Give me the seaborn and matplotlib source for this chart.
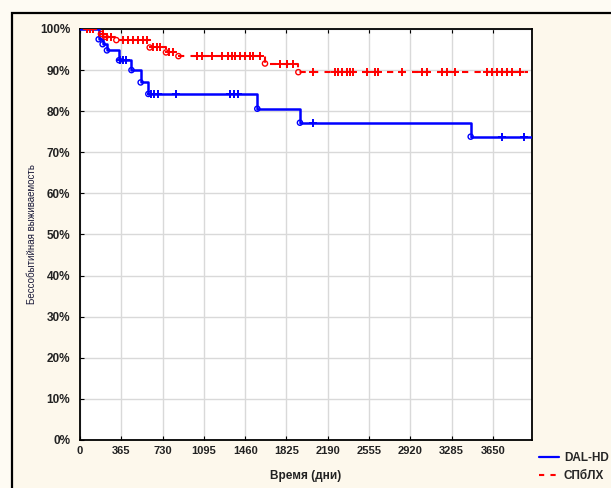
import numpy as np
import pandas as pd
import matplotlib
matplotlib.use("Agg")
import matplotlib.pyplot as plt
from matplotlib.lines import Line2D
from matplotlib.patches import Rectangle
import seaborn as sns

# ---- data ----
dal_event_days = [0, 165, 200, 238, 345, 455, 536, 604, 1567, 1944, 3453, 3995]
dal_surv = [100, 97.5, 96.3, 94.8, 92.4, 90.0, 87.0, 84.2, 80.6, 77.2, 73.8, 73.8]
dal_censor_days = [350, 380, 410, 625, 655, 685, 848, 1330, 1365, 1400, 2060, 3726, 3923]

spb_event_days = [0, 185, 225, 321, 616, 760, 870, 1635, 1930, 3960]
spb_surv = [100, 98.8, 98.1, 97.3, 95.5, 94.3, 93.4, 91.6, 89.5, 89.5]
spb_censor_days = [60, 90, 118, 206, 240, 270, 383, 427, 471, 516, 560, 589, 648, 677,
                   707, 790, 825, 1031, 1075, 1164, 1252, 1311, 1340, 1370, 1414, 1458,
                   1502, 1532, 1591, 1768, 1827, 1885, 2062, 2254, 2283, 2313, 2357,
                   2386, 2416, 2534, 2607, 2637, 2843, 3020, 3064, 3197, 3241, 3314,
                   3594, 3638, 3683, 3727, 3771, 3815, 3889]

group_names = ["DAL-HD", "СПбЛХ"]
x_ticks = [0, 365, 730, 1095, 1460, 1825, 2190, 2555, 2920, 3285, 3650]
y_ticks = [0, 10, 20, 30, 40, 50, 60, 70, 80, 90, 100]
x_label = "Время (дни)"
y_label = "Бессобытийная выживаемость"


def step_value(days, surv, t):
    idx = np.searchsorted(np.asarray(days), t, side="right") - 1
    return np.asarray(surv)[idx]


sns.set_style("white")
plt.rcParams["font.family"] = ["Liberation Sans", "DejaVu Sans"]

fig = plt.figure(figsize=(6.11, 4.88), dpi=100)
fig.patch.set_facecolor("#fefbf3")
# outer frame (behind the axes)
frame = Rectangle((12 / 611, -0.01), 1.0, 1 - 13 / 488 + 0.01, transform=fig.transFigure,
                  facecolor="#fdf8ec", edgecolor="black", linewidth=1.6, zorder=-10)
fig.add_artist(frame)

ax = fig.add_axes([80 / 611, 1 - 440 / 488, (532 - 80) / 611, (440 - 29) / 488])
ax.set_zorder(1)
ax.set_facecolor("white")

colors = {"DAL-HD": "#0000ff", "СПбЛХ": "#ff0000"}

# step curves
df_dal = pd.DataFrame({"day": dal_event_days, "surv": dal_surv})
df_spb = pd.DataFrame({"day": spb_event_days, "surv": spb_surv})
sns.lineplot(data=df_dal, x="day", y="surv", ax=ax, estimator=None, color=colors["DAL-HD"],
             drawstyle="steps-post", linewidth=1.8, zorder=4)
sns.lineplot(data=df_spb, x="day", y="surv", ax=ax, estimator=None, color=colors["СПбЛХ"],
             drawstyle="steps-post", linewidth=1.5, linestyle=(0, (3, 3)), zorder=3)

# event circles
ev_dal = pd.DataFrame({"day": dal_event_days[1:-1], "surv": dal_surv[1:-1]})
ev_spb = pd.DataFrame({"day": spb_event_days[1:-1], "surv": spb_surv[1:-1]})
sns.scatterplot(data=ev_dal, x="day", y="surv", ax=ax, marker="o", s=14,
                facecolor="none", edgecolor=colors["DAL-HD"], linewidth=1.0, zorder=5)
sns.scatterplot(data=ev_spb, x="day", y="surv", ax=ax, marker="o", s=14,
                facecolor="none", edgecolor=colors["СПбЛХ"], linewidth=1.0, zorder=5)

# censored marks
cz_dal = pd.DataFrame({"day": dal_censor_days,
                       "surv": [step_value(dal_event_days, dal_surv, t) for t in dal_censor_days]})
cz_spb = pd.DataFrame({"day": spb_censor_days,
                       "surv": [step_value(spb_event_days, spb_surv, t) for t in spb_censor_days]})
sns.scatterplot(data=cz_dal, x="day", y="surv", ax=ax, marker="+", s=40,
                color=colors["DAL-HD"], linewidth=1.4, zorder=5)
sns.scatterplot(data=cz_spb, x="day", y="surv", ax=ax, marker="+", s=40,
                color=colors["СПбЛХ"], linewidth=1.4, zorder=4)

ax.set_xlim(0, 3995)
ax.set_ylim(0, 100)
ax.set_xticks(x_ticks)
ax.set_xticklabels([str(v) for v in x_ticks], fontsize=8, fontweight="bold", color="#222222")
ax.set_yticks(y_ticks)
ax.set_yticklabels([f"{v}%" for v in y_ticks], fontsize=8.5, fontweight="bold", color="#222222")
ax.grid(True, color="#d9d9d9", linewidth=1.0)
ax.set_axisbelow(True)
for sp in ax.spines.values():
    sp.set_visible(True)
    sp.set_color("black")
    sp.set_linewidth(1.3)
ax.tick_params(axis="both", which="both", length=3, width=0.8, color="black",
               bottom=True, left=True, top=True, right=False, direction="in")
ax.tick_params(axis="y", pad=7)
ax.tick_params(axis="x", pad=4)
ax.set_xlabel(x_label, fontsize=8.5, fontweight="bold", color="#222222")
ax.xaxis.set_label_coords(0.5, -30 / 411)
ax.set_ylabel(y_label, fontsize=7, color="#1a1a3a")
ax.yaxis.set_label_coords(-43 / 452, 0.5)

handles = [Line2D([], [], color=colors["DAL-HD"], linewidth=1.6),
           Line2D([], [], color=colors["СПбЛХ"], linewidth=1.5, linestyle=(0, (2.5, 3)))]
fig.legend(handles, group_names, loc="upper left", bbox_to_anchor=(539 / 611, 1 - 452 / 488),
           frameon=False, handlelength=1.7, handletextpad=0.4,
           labelspacing=0.55, borderpad=0, borderaxespad=0,
           prop={"size": 8.5, "weight": "bold"})

fig.savefig("out.png", dpi=100, facecolor=fig.get_facecolor())
